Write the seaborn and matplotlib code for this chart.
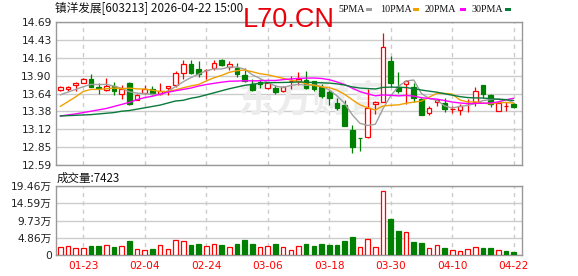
import numpy as np
import pandas as pd
import matplotlib
matplotlib.use("Agg")
import matplotlib.pyplot as plt
import seaborn as sns
from matplotlib.patches import Rectangle

# ---------------- data ----------------
dates = ["01-20", "01-21", "01-22", "01-23", "01-26", "01-27", "01-28", "01-29", "01-30",
         "02-02", "02-03", "02-04", "02-05", "02-06", "02-09", "02-10", "02-11", "02-12", "02-13",
         "02-24", "02-25", "02-26", "02-27",
         "03-02", "03-03", "03-04", "03-05", "03-06", "03-09", "03-10", "03-11", "03-12", "03-13",
         "03-16", "03-17", "03-18", "03-19", "03-20", "03-23", "03-24", "03-25", "03-26", "03-27",
         "03-30", "03-31",
         "04-01", "04-02", "04-03", "04-07", "04-08", "04-09", "04-10", "04-13", "04-14", "04-15",
         "04-16", "04-17", "04-20", "04-21", "04-22"]
shown_dates = ["01-23", "02-04", "02-24", "03-06", "03-18", "03-30", "04-10", "04-22"]

open_ = [13.69, 13.71, 13.77, 13.80, 13.86, 13.73, 13.69, 13.755, 13.63, 13.80,
         13.55, 13.65, 13.70, 13.64, 13.72, 13.765, 13.94, 14.07, 14.00, 13.98,
         14.01, 14.13, 14.03, 14.01, 13.91, 13.775, 13.81, 13.72, 13.725, 13.67,
         13.82, 13.83, 13.84, 13.82, 13.74, 13.66, 13.505, 13.47, 13.10, 12.99,
         13.00, 13.49, 13.51, 14.11, 13.74, 13.78, 13.74, 13.555, 13.35, 13.515,
         13.50, 13.41, 13.40, 13.50, 13.52, 13.765, 13.62, 13.39, 13.455, 13.49]
high = [13.75, 13.75, 13.81, 13.87, 13.92, 13.80, 13.87, 13.81, 13.76, 13.81,
        13.63, 13.76, 13.75, 13.80, 13.745, 13.97, 14.13, 14.13, 14.11, 14.00,
        14.13, 14.14, 14.11, 14.09, 14.02, 13.86, 13.86, 13.81, 13.76, 13.745,
        13.89, 13.95, 13.97, 13.83, 13.78, 13.69, 13.57, 13.54, 13.18, 12.99,
        13.70, 13.53, 14.53, 14.19, 13.95, 13.84, 13.80, 13.57, 13.45, 13.56,
        13.57, 13.45, 13.48, 13.555, 13.74, 13.77, 13.64, 13.51, 13.52, 13.50]
low = [13.67, 13.67, 13.67, 13.79, 13.73, 13.64, 13.67, 13.62, 13.56, 13.47,
       13.54, 13.64, 13.62, 13.62, 13.62, 13.74, 13.85, 13.93, 13.88, 13.86,
       13.99, 14.05, 13.99, 13.88, 13.81, 13.67, 13.72, 13.70, 13.64, 13.66,
       13.70, 13.765, 13.70, 13.67, 13.58, 13.47, 13.40, 13.16, 12.77, 12.79,
       12.99, 13.34, 13.51, 13.74, 13.65, 13.49, 13.52, 13.32, 13.32, 13.45,
       13.37, 13.36, 13.33, 13.37, 13.45, 13.58, 13.44, 13.38, 13.39, 13.42]
close = [13.73, 13.735, 13.80, 13.86, 13.74, 13.72, 13.755, 13.67, 13.70, 13.48,
         13.62, 13.71, 13.63, 13.67, 13.745, 13.945, 14.07, 13.94, 13.92, 13.99,
         14.09, 14.06, 14.08, 13.92, 13.83, 13.69, 13.78, 13.79, 13.66, 13.73,
         13.83, 13.86, 13.72, 13.70, 13.61, 13.58, 13.42, 13.17, 12.86, 12.98,
         13.42, 13.51, 14.32, 13.80, 13.67, 13.82, 13.58, 13.33, 13.43, 13.545,
         13.41, 13.415, 13.45, 13.505, 13.68, 13.63, 13.49, 13.50, 13.46, 13.44]
volume_wan = [2.34, 2.62, 2.06, 2.06, 2.62, 2.62, 2.90, 2.34, 2.62, 3.84,
              1.78, 1.50, 1.59, 2.90, 1.78, 4.30, 3.84, 2.71, 2.99, 2.62,
              3.18, 2.71, 2.34, 2.99, 4.12, 2.99, 2.34, 2.62, 2.99, 2.34,
              1.31, 2.62, 2.99, 2.43, 2.99, 2.71, 2.71, 3.84, 4.96, 2.34,
              4.58, 2.34, 18.06, 10.29, 6.64, 6.36, 3.56, 3.27, 2.06, 2.90,
              1.87, 1.50, 1.22, 1.78, 2.34, 1.87, 1.87, 1.50, 1.03, 0.7423]

ma5_head = [13.62, 13.66, 13.70, 13.74]
ma10_head = [13.45, 13.52, 13.59, 13.67, 13.70, 13.70, 13.71, 13.72, 13.71]
ma20_head = [13.31, 13.325, 13.34, 13.36, 13.38, 13.40, 13.42, 13.45, 13.48, 13.51,
             13.55, 13.58, 13.60, 13.63, 13.66, 13.68, 13.70, 13.72, 13.75]
ma30_head = [13.31, 13.315, 13.32, 13.325, 13.33, 13.34, 13.35, 13.36, 13.38, 13.39,
             13.41, 13.43, 13.45, 13.47, 13.50, 13.53, 13.54, 13.57, 13.59, 13.62,
             13.65, 13.68, 13.71, 13.735, 13.76, 13.775, 13.79, 13.80, 13.80]

price_ticks = ["12.59", "12.85", "13.12", "13.38", "13.64", "13.90", "14.16", "14.43", "14.69"]
vol_ticks = ["0", "4.86万", "9.73万", "14.59万", "19.46万"]
ma_names = ["5PMA", "10PMA", "20PMA", "30PMA"]
title = "镇洋发展[603213] 2026-04-22 15:00"

# ---------------- styling ----------------
RED = "#ff0000"
GREEN = "#008000"
MA_COLORS = ["#a0a0a0", "#f0a000", "#ff00ff", "#0a7a3a"]
GRID = "#cccccc"
SPINE = "#999999"

sns.set_theme(style="white")
plt.rcParams["font.family"] = ["DejaVu Sans", "Noto Sans CJK SC"]

W, H = 578, 276
fig = plt.figure(figsize=(W / 100, H / 100), dpi=100)


def fx(px):
    return px / W


def fy(py):
    return 1 - py / H


ax = fig.add_axes([fx(56), fy(165), (522 - 56) / W, (165 - 22) / H])
axv = fig.add_axes([fx(56), fy(255), (522 - 56) / W, (255 - 186) / H])

n = len(close)
x = np.arange(n)
o = np.array(open_)
c = np.array(close)
hi = np.array(high)
lo = np.array(low)
vol = np.array(volume_wan)

up = c >= o
ccol = np.where(up, RED, GREEN)
cface = np.where(up, "white", GREEN)

prev = np.concatenate([[c[0]], c[:-1]])
vup = c >= prev
vcol = np.where(vup, RED, GREEN)
vface = np.where(vup, "white", GREEN)


def moving_average(head, win):
    s = pd.Series(c).rolling(win).mean().to_numpy()
    s[:win - 1] = head
    return s


mas = [moving_average(ma5_head, 5), moving_average(ma10_head, 10),
       moving_average(ma20_head, 20), moving_average(ma30_head, 30)]

XL = (-0.55, 60.08)
tick_idx = [dates.index(d) for d in shown_dates]

for a in (ax, axv):
    a.set_xlim(*XL)
    a.set_facecolor("white")
    a.set_axisbelow(True)
    a.set_xticks(tick_idx)
    a.grid(axis="y", color=GRID, lw=1, ls="-")
    a.grid(axis="x", color=GRID, lw=1, ls=(0, (3, 3)))
    for s in a.spines.values():
        s.set_color(SPINE)
        s.set_linewidth(1)
        s.set_visible(True)

# watermark behind candles
ax.text(fx(238), fy(112), "东方财富", transform=fig.transFigure, fontsize=27,
        color="#ececec", weight="bold", family=["Noto Sans CJK SC"], zorder=1,
        va="baseline", ha="left")

# candles
ax.vlines(x, lo, hi, colors=ccol, lw=0.9, zorder=2)
body_b = np.minimum(o, c)
body_h = np.maximum(np.abs(c - o), 0.002)
ax.bar(x, body_h, bottom=body_b, width=0.6, color=cface, edgecolor=ccol,
       linewidth=0.9, zorder=3)

for vals, colr in zip(mas, MA_COLORS):
    sns.lineplot(x=x, y=vals, ax=ax, color=colr, linewidth=1.0, zorder=4, legend=False)

pv = [float(t) for t in price_ticks]
ax.set_ylim(pv[0], pv[-1])
ax.set_yticks(pv)
ax.set_yticklabels(price_ticks)
ax.tick_params(axis="y", length=0, pad=3, labelsize=7.7, labelcolor="#222222")
ax.tick_params(axis="x", length=0, labelbottom=False)
ax.set_xlabel("")
ax.set_ylabel("")

# volume
axv.bar(x, vol, width=0.6, color=vface, edgecolor=vcol, linewidth=0.9, zorder=3)
vv = [float(t.replace("万", "")) for t in vol_ticks]
axv.set_ylim(0, vv[-1])
axv.set_yticks(vv)
axv.set_yticklabels(vol_ticks)
axv.tick_params(axis="y", length=0, pad=3, labelsize=7.7, labelcolor="#222222")
axv.set_xticklabels(shown_dates)
axv.tick_params(axis="x", length=0, pad=4.5, labelsize=7.6, labelcolor=RED)

# texts
fig.text(fx(55), fy(12.5), title, fontsize=8.4, color="#111111",
         family=["Noto Sans CJK SC", "DejaVu Sans"], va="baseline", ha="left")
fig.text(fx(243), fy(27), "L70.CN", fontsize=19.5, color="#e8000b",
         family=["Liberation Sans"], va="baseline", ha="left")
fig.text(fx(57), fy(182), "成交量:%d" % round(vol[-1] * 10000), fontsize=8.3,
         color="#111111", family=["Noto Sans CJK SC", "DejaVu Sans"],
         va="baseline", ha="left")

# legend
leg_x = [338, 380, 425, 471]
dash_x = [366, 413, 460, 505]
for name, colr, tx, dx in zip(ma_names, MA_COLORS, leg_x, dash_x):
    fig.text(fx(tx), fy(12.5), name, fontsize=7.2, color="#111111",
             family=["Liberation Serif"], va="baseline", ha="left")
    fig.add_artist(Rectangle((fx(dx), fy(11)), 6 / W, 3 / H, transform=fig.transFigure,
                             facecolor=colr, edgecolor="none"))

fig.savefig("out.png", dpi=100)
